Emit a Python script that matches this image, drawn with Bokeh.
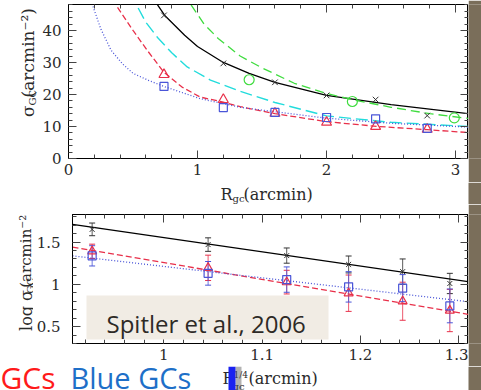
import math
from bokeh.plotting import figure
from bokeh.layouts import column, row
from bokeh.models import (ColumnDataSource, Label, BoxAnnotation, LinearAxis, SingleIntervalTicker,
                          CustomJSTickFormatter, Whisker, TeeHead, Range1d, CustomLabelingPolicy)
from bokeh.embed import file_html
from bokeh.resources import INLINE

# ---------------- data: top panel (surface density vs radius) ----------------
r_points = [0.74, 1.20, 1.60, 2.00, 2.38, 2.78]
all_gc = [44.7, 29.7, 23.8, 19.7, 18.4, 13.4]
red_gc = [26.2, 18.4, 14.1, 11.3, 10.0, 9.1]
blue_gc = [22.5, 15.9, 14.4, 12.8, 12.4, 9.4]
green_r = [1.40, 2.20, 2.99]
green_gc = [24.6, 17.8, 12.7]

black_fit_r = [0.69, 0.75, 0.9, 1.0, 1.2, 1.4, 1.6, 2.0, 2.5, 3.1]
black_fit_v = [48.0, 44.5, 38.5, 35.0, 30.0, 26.6, 23.8, 19.7, 16.8, 14.0]
green_fit_r = [0.95, 1.05, 1.16, 1.33, 1.5, 1.75, 2.0, 2.2, 2.5, 2.8, 3.1]
green_fit_v = [48.0, 42.0, 37.5, 32.0, 28.3, 23.5, 20.3, 18.4, 16.0, 14.0, 12.5]
cyan_fit_r = [0.54, 0.6, 0.69, 0.8, 0.92, 1.1, 1.33, 1.6, 2.0, 2.5, 3.1]
cyan_fit_v = [47.0, 42.5, 37.8, 33.0, 28.6, 24.5, 21.0, 17.5, 13.3, 11.3, 10.0]
red_fit_r = [0.38, 0.5, 0.61, 0.74, 0.88, 1.02, 1.2, 1.33, 1.6, 2.0, 2.4, 2.78, 3.1]
red_fit_v = [47.2, 40.0, 33.8, 26.9, 22.3, 19.2, 17.6, 16.2, 14.0, 11.5, 10.0, 9.0, 8.1]
blue_fit_r = [0.19, 0.25, 0.33, 0.42, 0.5, 0.62, 0.74, 1.02, 1.33, 1.6, 2.0, 2.5, 3.1]
blue_fit_v = [47.5, 40.5, 33.8, 29.5, 26.6, 24.4, 22.5, 18.7, 16.0, 14.6, 12.6, 11.0, 9.8]

# ---------------- data: bottom panel (log density vs R^(1/4)) ----------------
r14_points = [0.927, 1.045, 1.125, 1.188, 1.243, 1.291]
log_all = [1.65, 1.47, 1.34, 1.235, 1.15, 1.01]
log_all_err = [0.075, 0.08, 0.09, 0.10, 0.15, 0.12]
log_red = [1.39, 1.195, 1.026, 0.895, 0.80, 0.69]
log_red_err = [0.085, 0.15, 0.14, 0.215, 0.225, 0.25]
log_blue = [1.337, 1.13, 1.056, 0.97, 0.955, 0.745]
log_blue_err = [0.12, 0.14, 0.15, 0.18, 0.16, 0.20]
fit_r14 = [0.907, 1.31]
fit_all = [1.71, 1.03]
fit_red = [1.44, 0.644]
fit_blue = [1.337, 0.794]

SERIF = "DejaVu Serif"
SANS = "Open Sans"
INK = "#2a2a2a"
BLACK = "#333333"
GREEN = "#3fdc3f"
CYAN = "#22dcdc"
RED = "#e8304a"
BLUE = "#4a55d8"
BROWN = "#7a6e5a"
UP = math.pi / 2

fmt_js = CustomJSTickFormatter(code="return String(Number(tick.toFixed(3)));")
HIDE_ALL = "for (const i of Array.from(indices)) { indices.unset(i) } return indices;"


def setup(p, xint, yint):
    p.outline_line_color = "black"
    p.grid.visible = False
    p.background_fill_color = "white"
    p.border_fill_color = "white"
    for ax in (p.xaxis[0], p.yaxis[0]):
        ax.major_tick_in = 8
        ax.major_tick_out = 0
        ax.minor_tick_in = 4
        ax.minor_tick_out = 0
        ax.axis_line_color = "black"
        ax.major_tick_line_color = "#444"
        ax.minor_tick_line_color = "#444"
        ax.major_label_text_font = SERIF
        ax.major_label_text_font_size = "15px"
        ax.major_label_text_color = INK
    p.xaxis[0].ticker = SingleIntervalTicker(interval=xint, num_minor_ticks=5)
    p.yaxis[0].ticker = SingleIntervalTicker(interval=yint, num_minor_ticks=5)
    for place, interval in (("above", xint), ("right", yint)):
        ax = LinearAxis(ticker=SingleIntervalTicker(interval=interval, num_minor_ticks=5),
                        formatter=CustomJSTickFormatter(code="return '';"),
                        major_label_policy=CustomLabelingPolicy(code=HIDE_ALL),
                        major_label_text_font_size="1px", major_label_standoff=0,
                        major_tick_in=8, major_tick_out=0, minor_tick_in=4, minor_tick_out=0,
                        axis_line_color="black", major_tick_line_color="#444",
                        minor_tick_line_color="#444")
        p.add_layout(ax, place)


def pad(w, h, bg="white"):
    """Plain drawing area whose data units are pixels (y grows downward)."""
    f = figure(width=w, height=h, x_range=Range1d(0, w), y_range=Range1d(h, 0),
               output_backend="svg", toolbar_location=None,
               x_axis_location=None, y_axis_location=None, min_border=0,
               outline_line_color=None, background_fill_color=bg, border_fill_color=bg)
    f.grid.visible = False
    return f


def txt(p, x, y, text, size, color=INK, font=SERIF, angle=0.0, align="left", units="data"):
    p.add_layout(Label(x=x, y=y, x_units=units, y_units=units, text=text,
                       text_font=font, text_font_size=f"{size}px", text_color=color,
                       angle=angle, text_align=align, text_baseline="middle"))


def rect(p, l, r, t, b, color, alpha=1.0, units="data"):
    p.add_layout(BoxAnnotation(left=l, right=r, top=t, bottom=b,
                               left_units=units, right_units=units,
                               top_units=units, bottom_units=units,
                               fill_color=color, fill_alpha=alpha, line_color=None))


# ---------------- row 1: top panel ----------------
ylab_top = pad(38, 182)
txt(ylab_top, 27.1, 126, "σ", 17, angle=UP, align="center")
txt(ylab_top, 32.0, 110, "GC", 10, angle=UP, align="center")
txt(ylab_top, 27.1, 57, "(arcmin⁻²)", 17, angle=UP, align="center")

top = figure(width=430, height=182, output_backend="svg", toolbar_location=None,
             x_range=Range1d(0, 3.1), y_range=Range1d(0, 48.1),
             min_border_left=30, min_border_right=0, min_border_top=4, min_border_bottom=24)
setup(top, 1, 10)
top.xaxis[0].major_label_standoff = 6
top.yaxis[0].major_label_standoff = 7

top.line(black_fit_r, black_fit_v, line_color="black", line_width=1.3)
top.line(green_fit_r, green_fit_v, line_color=GREEN, line_width=1.3, line_dash="9 5")
top.line(cyan_fit_r, cyan_fit_v, line_color=CYAN, line_width=1.4, line_dash="12 5")
top.line(red_fit_r, red_fit_v, line_color=RED, line_width=1.3, line_dash="6 3")
top.line(blue_fit_r, blue_fit_v, line_color=BLUE, line_width=1.3, line_dash="1 2")

top.scatter(r_points, all_gc, marker="x", size=8, line_color=BLACK, line_width=1)
top.scatter(green_r, green_gc, marker="circle", size=10, fill_color=None, line_color=GREEN, line_width=1.2)
top.scatter(r_points, red_gc, marker="triangle", size=10, fill_color=None, line_color=RED, line_width=1.2)
top.scatter(r_points, blue_gc, marker="square", size=8, fill_color=None, line_color=BLUE, line_width=1.2)

brown1 = pad(13, 182, BROWN)

# ---------------- row 2: top x label ----------------
xlab_top = pad(481, 22)
txt(xlab_top, 220, 11.5, "R", 16)
txt(xlab_top, 232, 15.5, "gc", 10)
txt(xlab_top, 243, 11.5, "(arcmin)", 16)
rect(xlab_top, 468, 481, 0, 22, BROWN)

# ---------------- row 3: bottom panel ----------------
ylab_bot = pad(33, 162)
txt(ylab_bot, 25.5, 120.5, "log σ", 16, angle=UP, align="center")
txt(ylab_bot, 29.5, 89.5, "GC", 10, angle=UP, align="center")
txt(ylab_bot, 25.8, 42.5, "(arcmin⁻²)", 15, angle=UP, align="center")

bot = figure(width=435, height=162, output_backend="svg", toolbar_location=None,
             x_range=Range1d(0.907, 1.31), y_range=Range1d(0.30, 1.826),
             min_border_left=35, min_border_right=0, min_border_top=3, min_border_bottom=23)
setup(bot, 0.1, 0.5)
bot.xaxis[0].formatter = fmt_js
bot.yaxis[0].formatter = fmt_js
bot.xaxis[0].major_label_standoff = 6
bot.yaxis[0].major_label_standoff = 12

bot.line(fit_r14, fit_all, line_color="black", line_width=1.3)
bot.line(fit_r14, fit_red, line_color=RED, line_width=1.3, line_dash="6 3")
bot.line(fit_r14, fit_blue, line_color=BLUE, line_width=1.3, line_dash="1 2")

for vals, errs, color in ((log_all, log_all_err, BLACK), (log_red, log_red_err, RED),
                          (log_blue, log_blue_err, BLUE)):
    src = ColumnDataSource(dict(x=r14_points,
                                lo=[v - e for v, e in zip(vals, errs)],
                                hi=[v + e for v, e in zip(vals, errs)]))
    bot.add_layout(Whisker(source=src, base="x", lower="lo", upper="hi", dimension="height",
                           line_color=color, line_width=1, line_alpha=0.8,
                           lower_head=TeeHead(size=6, line_color=color, line_width=1),
                           upper_head=TeeHead(size=6, line_color=color, line_width=1)))

bot.scatter(r14_points, log_all, marker="x", size=7, line_color=BLACK, line_width=1)
bot.scatter(r14_points, log_red, marker="triangle", size=9, fill_color=None, line_color=RED, line_width=1.2)
bot.scatter(r14_points, log_blue, marker="square", size=8, fill_color=None, line_color=BLUE, line_width=1.2)

# citation box (inside the frame, canvas pixels of this figure)
rect(bot, 53, 295, 91, 135, "#f1ece4", units="canvas")
txt(bot, 73, 118.7, "Spitler et al., 2006", 24, color="#2e2a26", font=SANS, units="canvas")

brown3 = pad(13, 162, BROWN)

# ---------------- row 4: slide captions and bottom x label ----------------
foot = pad(481, 24)
txt(foot, 55, 10.5, "GCs", 30, color="#ff1a1a", font=SANS, align="right")
txt(foot, 70, 10.7, "Blue GCs", 29, color="#1e6fc8", font=SANS)
txt(foot, 222, 12, "R", 16)
txt(foot, 232, 19.5, "gc", 10)
txt(foot, 233, 8, "1/4", 9)
txt(foot, 248, 12, "(arcmin)", 16)
rect(foot, 235, 241, 0, 24, "#555555", 0.45)
rect(foot, 228, 235, 0, 24, "#1a22f0")
rect(foot, 468, 481, 0, 24, BROWN)

layout = column(
    row(ylab_top, top, brown1, spacing=0),
    xlab_top,
    row(ylab_bot, bot, brown3, spacing=0),
    foot,
    spacing=0,
)
open("out.html", "w").write(file_html(layout, INLINE))
